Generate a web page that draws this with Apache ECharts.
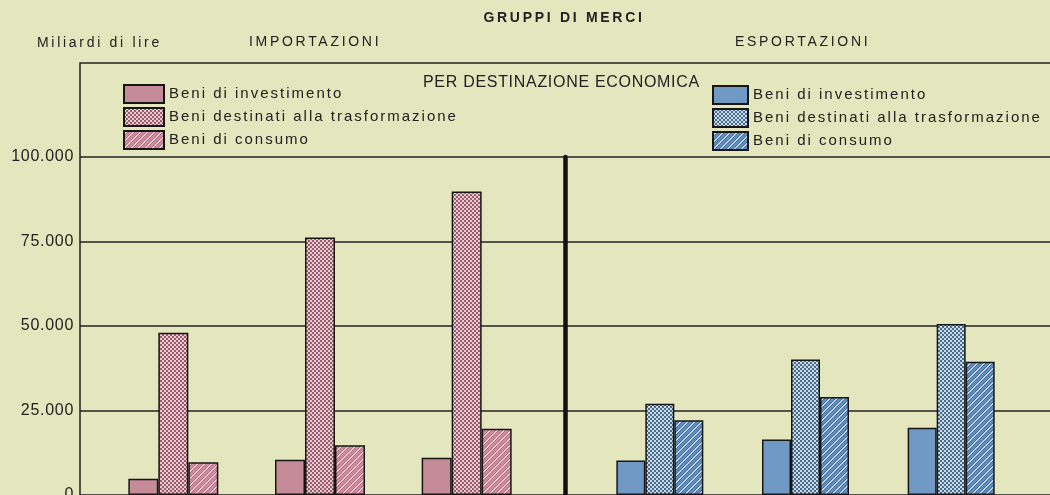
<!DOCTYPE html>
<html>
<head>
<meta charset="utf-8">
<script src="https://cdn.jsdelivr.net/npm/echarts@6/dist/echarts.min.js"></script>
<style>
  html, body { margin: 0; padding: 0; background: #e4e6be; }
  #chart { width: 1050px; height: 495px; }
</style>
</head>
<body>
<div id="chart"></div>
<script>
// ---- data (miliardi di lire) ----
const periods = ['I', 'II', 'III'];
const seriesNames = ['Beni di investimento', 'Beni destinati alla trasformazione', 'Beni di consumo'];

const impInvestimento   = [4800, 10400, 11000];
const impTrasformazione = [48000, 76200, 89800];
const impConsumo        = [9700, 14700, 19600];

const expInvestimento   = [10200, 16400, 19900];
const expTrasformazione = [27000, 40100, 50600];
const expConsumo        = [22100, 29000, 39400];

const yTicks = [0, 25000, 50000, 75000, 100000];

const titleMain = 'GRUPPI DI MERCI';
const unitLabel = 'Miliardi di lire';
const importLabel = 'IMPORTAZIONI';
const exportLabel = 'ESPORTAZIONI';
const groupingLabel = 'PER DESTINAZIONE ECONOMICA';

// ---- widely tracked lettering, keyed by font size ----
const TRACKING = { '14': 2.7, '15': 2, '16': 0.7 };
const baseFillText = CanvasRenderingContext2D.prototype.fillText;
CanvasRenderingContext2D.prototype.fillText = function (text, x, y, maxWidth) {
  const m = /(\d+(?:\.\d+)?)px/.exec(this.font);
  const t = m ? (TRACKING[m[1]] || 0) : 0;
  if ('letterSpacing' in this) this.letterSpacing = t + 'px';
  return maxWidth === undefined
    ? baseFillText.call(this, text, x, y)
    : baseFillText.call(this, text, x, y, maxWidth);
};

// ---- fill patterns ----
function dotPattern(light, dark) {
  const c = document.createElement('canvas');
  c.width = 4; c.height = 4;
  const g = c.getContext('2d');
  g.fillStyle = light; g.fillRect(0, 0, 4, 4);
  g.fillStyle = dark;
  g.fillRect(0, 0, 2, 2);
  g.fillRect(2, 2, 2, 2);
  return { image: c, repeat: 'repeat' };
}
function stripePattern(light, dark, edge) {
  const s = 7;
  const c = document.createElement('canvas');
  c.width = s; c.height = s;
  const g = c.getContext('2d');
  g.fillStyle = light; g.fillRect(0, 0, s, s);
  const line = (w, col) => {
    g.strokeStyle = col; g.lineWidth = w;
    g.beginPath();
    g.moveTo(-1, s + 1); g.lineTo(s + 1, -1);
    g.moveTo(-1, 1); g.lineTo(1, -1);
    g.moveTo(s - 1, s + 1); g.lineTo(s + 1, s - 1);
    g.stroke();
  };
  line(3.6, edge);
  line(2.4, dark);
  return { image: c, repeat: 'repeat' };
}

const pinkSolid = '#c68b99';
const pinkDots = dotPattern('#efc3d0', '#93606e');
const pinkStripes = stripePattern('#f4dbe2', '#d98aa0', '#8e5666');
const blueSolid = '#7199c6';
const blueDots = dotPattern('#c4def0', '#4d6987');
const blueStripes = stripePattern('#d2e6f5', '#5f90c6', '#2f4f74');

const ink = '#222222';
const font = "'Liberation Sans', Arial, sans-serif";

function fmtThousands(v) {
  return String(v).replace(/\B(?=(\d{3})+(?!\d))/g, '.');
}

function barSeries(name, data, fill, idx, width) {
  return {
    type: 'bar', name, data,
    xAxisIndex: idx, yAxisIndex: idx,
    barWidth: width, barGap: '0%',
    itemStyle: { color: fill, borderColor: '#161616', borderWidth: 1.5 },
    emphasis: { disabled: true },
    silent: true
  };
}

const chart = echarts.init(document.getElementById('chart'), null, { renderer: 'canvas' });

const legendText = { fontFamily: font, fontSize: 15, color: ink };

chart.setOption({
  backgroundColor: '#e4e6be',
  animation: false,
  textStyle: { fontFamily: font },
  title: [
    { text: titleMain, left: 564, top: 11, textAlign: 'center', padding: 0,
      textStyle: { fontFamily: font, fontSize: 14, fontWeight: 'bold', color: ink } },
    { text: unitLabel, left: 37, top: 36, padding: 0,
      textStyle: { fontFamily: font, fontSize: 14, fontWeight: 'normal', color: ink } },
    { text: importLabel, left: 249, top: 35, padding: 0,
      textStyle: { fontFamily: font, fontSize: 14, fontWeight: 'normal', color: ink } },
    { text: exportLabel, left: 735, top: 35, padding: 0,
      textStyle: { fontFamily: font, fontSize: 14, fontWeight: 'normal', color: ink } },
    { text: groupingLabel, left: 423, top: 75, padding: 0,
      textStyle: { fontFamily: font, fontSize: 16, fontWeight: 'normal', color: ink } }
  ],
  legend: [
    {
      orient: 'vertical', left: 123, top: 84, padding: 0,
      itemWidth: 40, itemHeight: 18, itemGap: 3,
      selectedMode: false,
      textStyle: legendText,
      data: [
        { name: seriesNames[0], icon: 'rect', itemStyle: { color: pinkSolid, borderColor: '#161616', borderWidth: 2 } },
        { name: seriesNames[1], icon: 'rect', itemStyle: { color: pinkDots, borderColor: '#161616', borderWidth: 2 } },
        { name: seriesNames[2], icon: 'rect', itemStyle: { color: pinkStripes, borderColor: '#161616', borderWidth: 2 } }
      ]
    },
    {
      orient: 'vertical', left: 712, top: 85, padding: 0,
      itemWidth: 35, itemHeight: 18, itemGap: 3,
      selectedMode: false,
      textStyle: legendText,
      data: [
        { name: seriesNames[0], icon: 'rect', itemStyle: { color: blueSolid, borderColor: '#161616', borderWidth: 2 } },
        { name: seriesNames[1], icon: 'rect', itemStyle: { color: blueDots, borderColor: '#161616', borderWidth: 2 } },
        { name: seriesNames[2], icon: 'rect', itemStyle: { color: blueStripes, borderColor: '#161616', borderWidth: 2 } }
      ]
    }
  ],
  grid: [
    // outer frame of the plotting panel
    { left: 80, top: 63, right: -6, bottom: -6, show: true, outerBoundsMode: 'none',
      borderColor: '#222', borderWidth: 1.5, backgroundColor: 'transparent' },
    // value scale with horizontal rules
    { left: 80, top: 157, right: 0, bottom: 0, outerBoundsMode: 'none' },
    // imports
    { left: 100, width: 440, top: 157, bottom: 0, outerBoundsMode: 'none' },
    // exports
    { left: 587, width: 437, top: 157, bottom: 0, outerBoundsMode: 'none' }
  ],
  xAxis: [
    { gridIndex: 0, type: 'value', show: false },
    { gridIndex: 1, type: 'value', show: false },
    { gridIndex: 2, type: 'category', data: periods, show: false },
    { gridIndex: 3, type: 'category', data: periods, show: false }
  ],
  yAxis: [
    { gridIndex: 0, type: 'value', show: false },
    {
      gridIndex: 1, type: 'value',
      min: yTicks[0], max: yTicks[yTicks.length - 1], interval: yTicks[1] - yTicks[0],
      axisLine: { show: false }, axisTick: { show: false },
      axisLabel: { margin: 6, fontFamily: font, fontSize: 16, color: ink,
        formatter: v => fmtThousands(v) },
      splitLine: { lineStyle: { color: '#222', width: 1.5 } }
    },
    { gridIndex: 2, type: 'value', min: 0, max: 100000, show: false },
    {
      gridIndex: 3, type: 'value', min: 0, max: 100000,
      offset: 22,
      axisLine: { show: true, lineStyle: { color: '#111', width: 4.5 } },
      axisTick: { show: false }, axisLabel: { show: false }, splitLine: { show: false }
    }
  ],
  series: [
    barSeries(seriesNames[0], impInvestimento, pinkSolid, 2, 30),
    barSeries(seriesNames[1], impTrasformazione, pinkDots, 2, 30),
    barSeries(seriesNames[2], impConsumo, pinkStripes, 2, 30),
    barSeries(seriesNames[0], expInvestimento, blueSolid, 3, 29),
    barSeries(seriesNames[1], expTrasformazione, blueDots, 3, 29),
    barSeries(seriesNames[2], expConsumo, blueStripes, 3, 29)
  ]
});
</script>
</body>
</html>
